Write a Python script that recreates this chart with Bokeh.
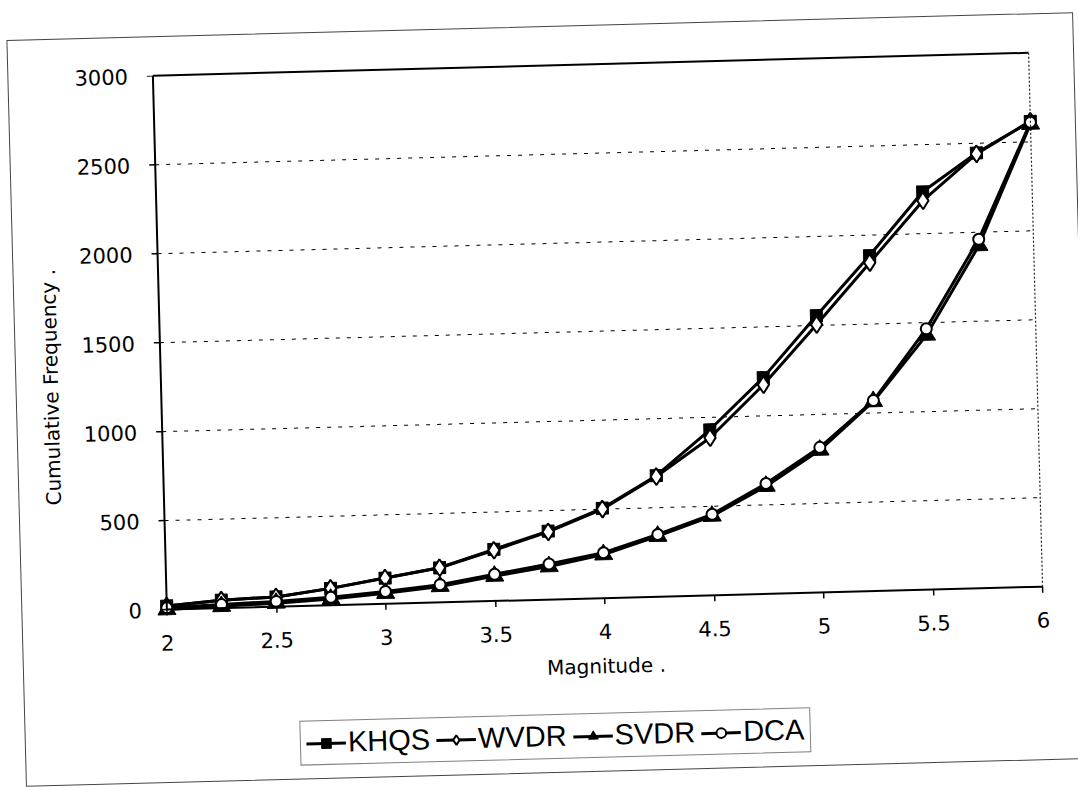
from bokeh.plotting import figure
from bokeh.models import FixedTicker, LinearAxis, Legend, LegendItem, Range1d, Title
from bokeh.embed import file_html
from bokeh.resources import INLINE

# Cumulative frequency of events by magnitude for four catalogues
magnitude = [2.0, 2.25, 2.5, 2.75, 3.0, 3.25, 3.5, 3.75, 4.0,
             4.25, 4.5, 4.75, 5.0, 5.25, 5.5, 5.75, 6.0]
khqs = [20, 45, 55, 95, 145, 195, 290, 385, 505,
        680, 930, 1215, 1555, 1885, 2235, 2445, 2615]
wvdr = [20, 45, 55, 95, 145, 195, 285, 380, 500,
        675, 885, 1175, 1505, 1845, 2185, 2440, 2615]
svdr = [0, 10, 20, 35, 60, 90, 140, 185, 245,
        340, 445, 605, 800, 1065, 1430, 1925, 2600]
dca = [10, 20, 30, 45, 70, 100, 150, 200, 255,
       350, 455, 620, 815, 1070, 1465, 1960, 2610]

x_ticks = [2, 2.5, 3, 3.5, 4, 4.5, 5, 5.5, 6]
x_tick_labels = ["2", "2.5", "3", "3.5", "4", "4.5", "5", "5.5", "6"]
y_ticks = [0, 500, 1000, 1500, 2000, 2500, 3000]
y_tick_labels = ["0", "500", "1000", "1500", "2000", "2500", "3000"]
grid_values = [500, 1000, 1500, 2000, 2500]

TICK_FONT = "DejaVu Sans"
LEGEND_FONT = "Liberation Sans"

X_MIN, X_MAX = x_ticks[0], x_ticks[-1]
Y_MAX = y_ticks[-1]

# Frame geometry: 876 px carry 2..6 with a 12 px apron on both sides (so the
# end tick labels are not cut), 534 px carry 0..3000 and the frame runs on
# below zero so the key box sits under the magnitude axis.
PLOT_W, APRON = 876, 12
AXIS_PX, FRAME_H = 534, 697
x_pad = APRON * (X_MAX - X_MIN) / PLOT_W
y_start = Y_MAX - FRAME_H * Y_MAX / AXIS_PX

p = figure(
    width=1065, height=745,
    frame_width=PLOT_W + 2 * APRON, frame_height=FRAME_H,
    x_range=Range1d(X_MIN - x_pad, X_MAX + x_pad),
    y_range=Range1d(y_start, Y_MAX),
    output_backend="svg", toolbar_location=None,
    min_border_left=132, min_border_right=33,
    min_border_top=38, min_border_bottom=10,
    background_fill_color="white", border_fill_color=None,
    outline_line_color=None,
    x_axis_label="Magnitude .",
    styles={
        "transform": "translate(17px, 27px) rotate(-1.5deg)",
        "outline": "1px solid #444444",
    },
)

# magnitude axis drawn at y = 0
xa = p.xaxis[0]
xa.fixed_location = 0
xa.bounds = (X_MIN, X_MAX)
xa.ticker = FixedTicker(ticks=x_ticks)
xa.major_label_overrides = dict(zip(x_ticks, x_tick_labels))
xa.axis_line_color = "black"
xa.axis_line_width = 2
xa.major_tick_line_color = "black"
xa.major_tick_line_width = 1.5
xa.major_tick_out = 6
xa.major_tick_in = 0
xa.minor_tick_line_color = None
xa.major_label_standoff = 19
xa.axis_label_standoff = 12

# frequency tick labels live in the left panel
ya = p.yaxis[0]
ya.bounds = (0, Y_MAX)
ya.ticker = FixedTicker(ticks=y_ticks)
ya.major_label_overrides = dict(zip(y_ticks, y_tick_labels))
ya.axis_line_color = None
ya.major_tick_line_color = None
ya.minor_tick_line_color = None
ya.major_tick_out = 0
ya.major_tick_in = 0
ya.major_label_standoff = 13

for ax in (xa, ya):
    ax.major_label_text_font = TICK_FONT
    ax.major_label_text_font_size = "21px"
    ax.major_label_text_color = "black"
    ax.axis_label_text_font = TICK_FONT
    ax.axis_label_text_font_size = "20px"
    ax.axis_label_text_font_style = "normal"
    ax.axis_label_text_color = "black"

# vertical axis title, placed along the 0..3000 stretch of the frame
p.add_layout(Title(text="Cumulative Frequency .", align="left", offset=270,
                   standoff=34, text_font=TICK_FONT, text_font_size="20px",
                   text_font_style="normal", text_color="black"), "left")

# frequency axis line and ticks at x = 2
y_rule = LinearAxis(fixed_location=X_MIN, bounds=(0, Y_MAX),
                    ticker=FixedTicker(ticks=y_ticks),
                    axis_line_color="black", axis_line_width=2,
                    major_tick_line_color="black", major_tick_line_width=1.5,
                    major_tick_out=6, major_tick_in=0,
                    minor_tick_line_color=None,
                    major_label_text_color=None)
p.add_layout(y_rule, "left")

# plot-area border: solid top edge, dotted right edge
top_edge = LinearAxis(ticker=FixedTicker(ticks=[]), bounds=(X_MIN, X_MAX),
                      axis_line_width=2, axis_line_color="black",
                      major_label_text_color=None)
right_edge = LinearAxis(fixed_location=X_MAX, bounds=(0, Y_MAX),
                        ticker=FixedTicker(ticks=[]), axis_line_width=1.2,
                        axis_line_color="#222222", axis_line_dash="2 2",
                        major_label_text_color=None)
p.add_layout(top_edge, "above")
p.add_layout(right_edge, "right")

# dotted horizontal gridlines between the two vertical edges
p.xgrid.visible = False
p.ygrid.visible = False
p.segment(x0=[X_MIN] * len(grid_values), x1=[X_MAX] * len(grid_values),
          y0=grid_values, y1=grid_values,
          line_color="black", line_width=1, line_dash="4 7")

series = [
    ("KHQS", khqs, "square", 12, "black", 1),
    ("WVDR", wvdr, "diamond", 17, "white", 2),
    ("SVDR", svdr, "triangle", 18, "black", 1),
    ("DCA", dca, "circle", 11, "white", 2),
]

items = []
for name, vals, marker, size, fill, lw in series:
    ln = p.line(magnitude, vals, line_color="black", line_width=3)
    sc = p.scatter(magnitude, vals, marker=marker, size=size,
                   fill_color=fill, line_color="black", line_width=lw)
    items.append(LegendItem(label=name, renderers=[ln, sc]))

legend = Legend(
    items=items, orientation="horizontal", location=(142, 3),
    label_text_font=LEGEND_FONT, label_text_font_size="29px",
    label_text_color="black", glyph_width=40, glyph_height=24,
    label_standoff=2, spacing=6, padding=5,
    border_line_color="black", border_line_width=1.5,
    background_fill_color="white", background_fill_alpha=1.0,
)
p.add_layout(legend)

open("out.html", "w").write(file_html(p, INLINE))
